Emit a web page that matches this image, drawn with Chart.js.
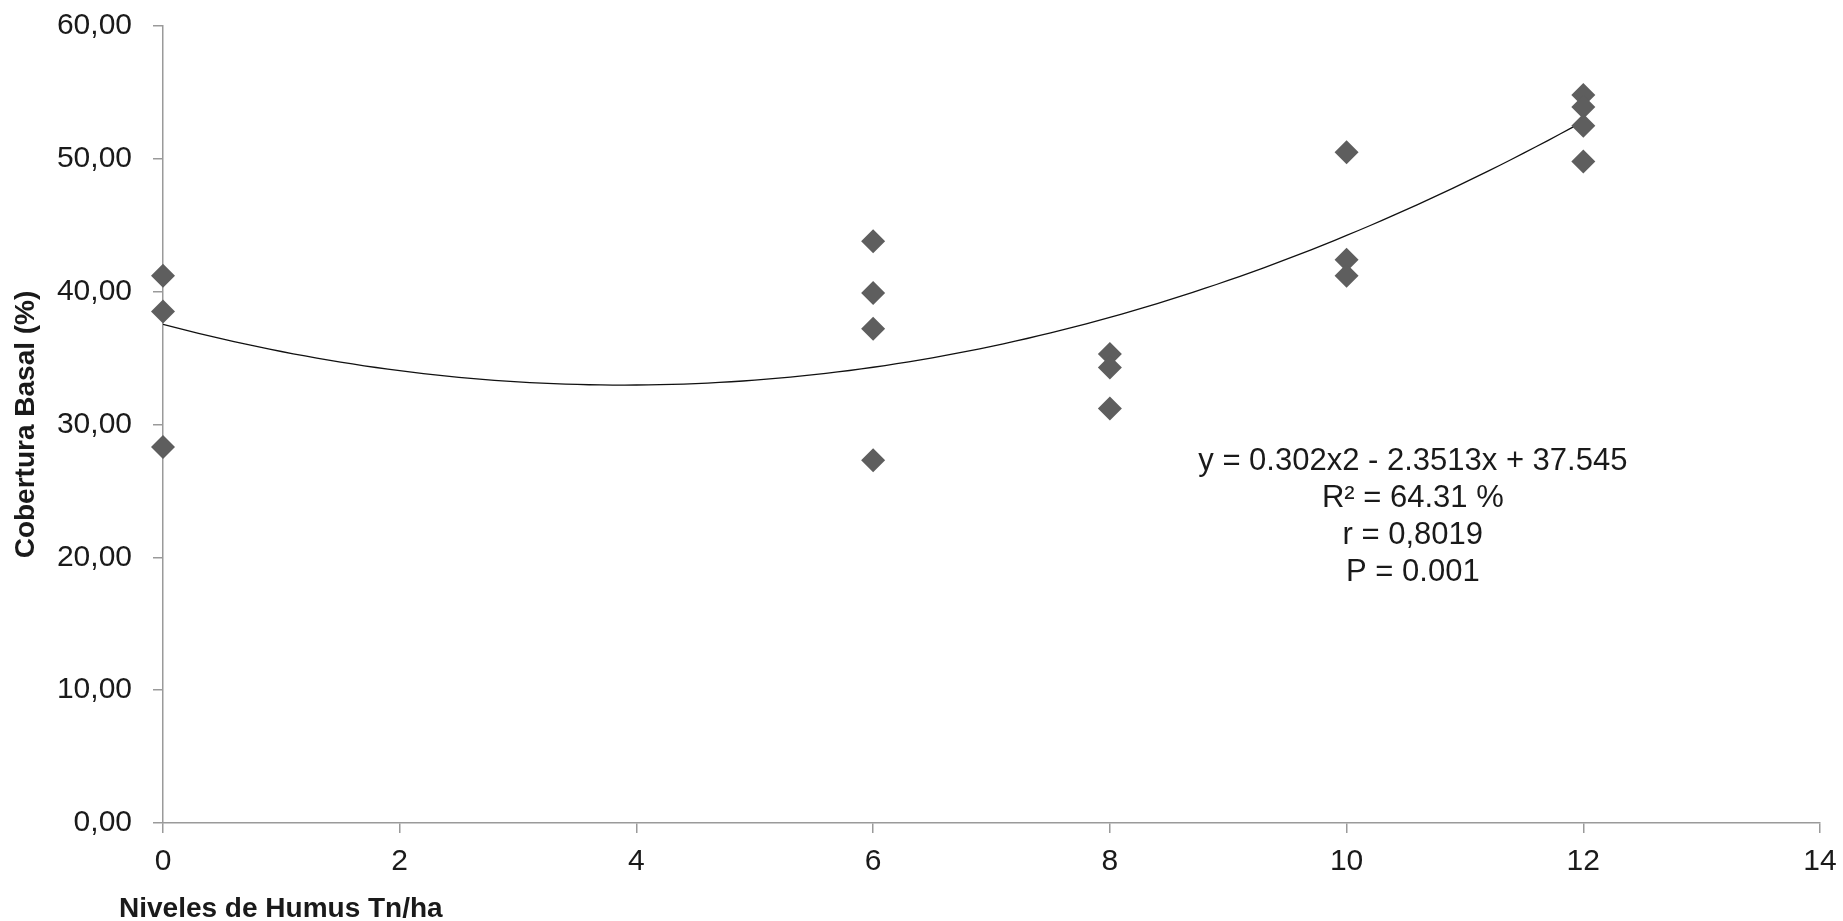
<!DOCTYPE html>
<html>
<head>
<meta charset="utf-8">
<script src="https://cdn.jsdelivr.net/npm/chart.js@4.4.1/dist/chart.umd.min.js"></script>
<style>
  html, body { margin: 0; padding: 0; background: #ffffff; }
  #wrap { width: 1843px; height: 921px; position: relative; }
</style>
</head>
<body>
<div id="wrap"><canvas id="c" width="1843" height="921"></canvas></div>
<script>
// ---- data ----
const xValues = [0, 0, 0, 6, 6, 6, 6, 8, 8, 8, 10, 10, 10, 12, 12, 12, 12];
const yValues = [41.2, 38.5, 28.3, 43.8, 39.9, 37.2, 27.3, 35.3, 34.3, 31.2, 50.5, 42.4, 41.2, 54.8, 53.9, 52.5, 49.8];
// trend line coefficients as printed on the chart: y = c0 + c1*x + c2*x^2
const trendCoef = [37.545, -2.3513, 0.302];
const trendRange = [0, 12];
const xTickValues = [0, 2, 4, 6, 8, 10, 12, 14];
const yTickLabels = ['0,00', '10,00', '20,00', '30,00', '40,00', '50,00', '60,00'];
const xTitle = 'Niveles de Humus Tn/ha';
const yTitle = 'Cobertura Basal (%)';
const annotationLines = ['y = 0.302x2 - 2.3513x + 37.545', 'R\u00B2 = 64.31 %', 'r = 0,8019', 'P = 0.001'];
const annotationAnchor = [10.56, 27.25];

const scatterPoints = xValues.map((x, i) => ({ x: x, y: yValues[i] }));
const trendPoints = [];
for (let k = 0; k <= 120; k++) {
  const x = trendRange[0] + (trendRange[1] - trendRange[0]) * k / 120;
  trendPoints.push({ x: x, y: trendCoef[0] + trendCoef[1] * x + trendCoef[2] * x * x });
}

const FONT = "'Liberation Sans', Arial, sans-serif";
const TEXT = '#1a1a1a';
const AXIS = '#9a9a9a';

const annotationPlugin = {
  id: 'eqText',
  afterDatasetsDraw(chart) {
    const { ctx, scales } = chart;
    const cx = scales.x.getPixelForValue(annotationAnchor[0]);
    const cy = scales.y.getPixelForValue(annotationAnchor[1]);
    ctx.save();
    ctx.font = "31px " + FONT;
    ctx.fillStyle = TEXT;
    ctx.textAlign = 'center';
    ctx.textBaseline = 'middle';
    annotationLines.forEach((t, i) => ctx.fillText(t, cx, cy + i * 37));
    ctx.restore();
  }
};

const xTitlePlugin = {
  id: 'xTitle',
  afterDraw(chart) {
    const { ctx, chartArea } = chart;
    ctx.save();
    ctx.font = "bold 28px " + FONT;
    ctx.fillStyle = TEXT;
    ctx.textAlign = 'left';
    ctx.textBaseline = 'alphabetic';
    ctx.fillText(xTitle, chartArea.left - 44, chart.height - 4);
    ctx.restore();
  }
};

new Chart(document.getElementById('c'), {
  type: 'scatter',
  data: {
    datasets: [
      {
        label: 'Cobertura Basal',
        data: scatterPoints,
        pointStyle: 'rectRot',
        pointRadius: 12,
        pointHoverRadius: 12,
        backgroundColor: '#5e5e5e',
        borderColor: '#5e5e5e',
        borderWidth: 0,
        clip: false
      },
      {
        type: 'line',
        label: 'Tendencia',
        data: trendPoints,
        borderColor: '#111111',
        borderWidth: 1.3,
        pointRadius: 0,
        fill: false,
        tension: 0
      }
    ]
  },
  options: {
    responsive: false,
    animation: false,
    events: [],
    layout: { padding: { top: 26, right: 23, left: 0, bottom: 0 } },
    plugins: {
      legend: { display: false },
      tooltip: { enabled: false }
    },
    scales: {
      x: {
        type: 'linear',
        min: 0,
        max: 14,
        afterFit(scale) { scale.height = 98; scale.paddingLeft = 0; scale.paddingRight = 0; },
        afterBuildTicks(scale) { scale.ticks = xTickValues.map(v => ({ value: v })); },
        ticks: {
          font: { family: FONT, size: 30 },
          color: TEXT,
          padding: 11,
          maxRotation: 0,
          callback: (v) => String(v)
        },
        grid: { display: true, drawOnChartArea: false, drawTicks: true, tickLength: 10, color: AXIS, lineWidth: 1.5 },
        border: { display: true, color: AXIS, width: 1.5 },
        title: { display: false }
      },
      y: {
        type: 'linear',
        min: 0,
        max: 60,
        afterFit(scale) { scale.width = 163; scale.paddingTop = 0; scale.paddingBottom = 0; },
        ticks: {
          stepSize: 10,
          font: { family: FONT, size: 30 },
          color: TEXT,
          padding: 21,
          callback: (v) => yTickLabels[Math.round(v / 10)]
        },
        grid: { display: true, drawOnChartArea: false, drawTicks: true, tickLength: 10, color: AXIS, lineWidth: 1.5 },
        border: { display: true, color: AXIS, width: 1.5 },
        title: {
          display: true,
          text: yTitle,
          color: TEXT,
          font: { family: FONT, size: 28, weight: 'bold' },
          padding: { top: 9, bottom: 0 }
        }
      }
    }
  },
  plugins: [annotationPlugin, xTitlePlugin]
});
</script>
</body>
</html>
